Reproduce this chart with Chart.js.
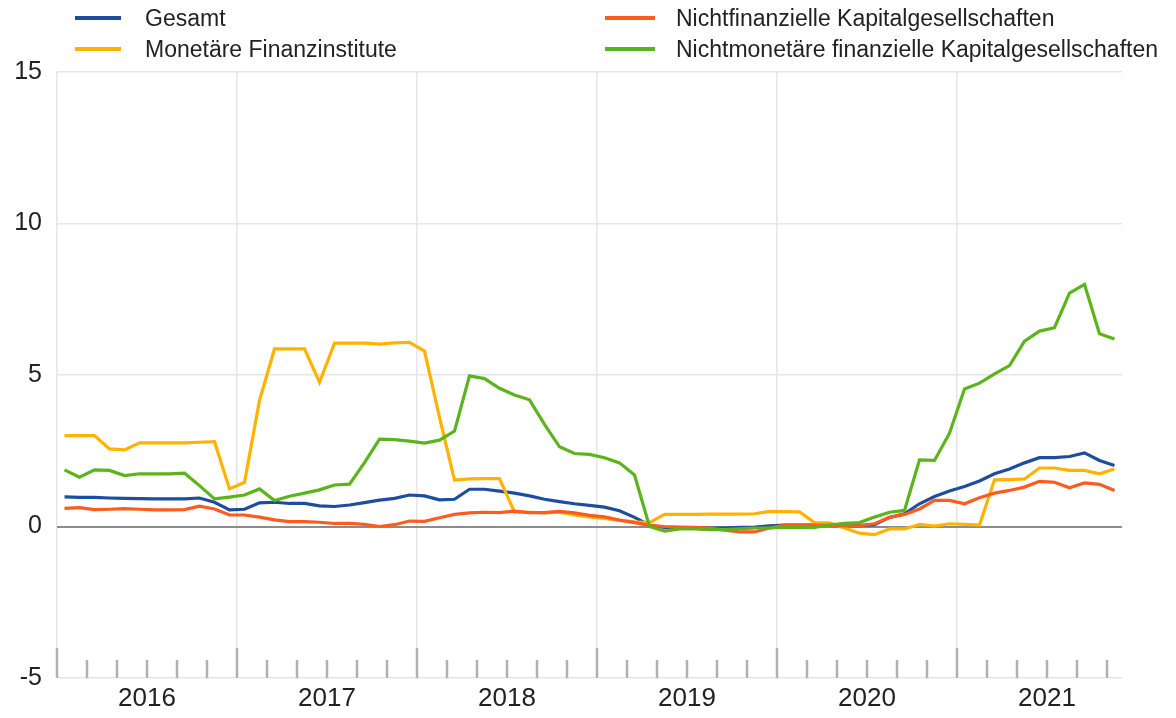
<!DOCTYPE html>
<html><head><meta charset="utf-8">
<script src="https://cdn.jsdelivr.net/npm/chart.js@4"></script>
<style>
html,body{margin:0;padding:0;background:#fff;}
#wrap{position:relative;width:1176px;height:718px;font-family:"Liberation Sans",Arial,sans-serif;color:#222;overflow:hidden;}
canvas{position:absolute;left:0;top:0;}
.lg{position:absolute;font-size:23px;line-height:26px;white-space:nowrap;color:#222;}
.sw{position:absolute;height:4px;width:46px;}
</style></head><body>
<div id="wrap"><canvas id="c" width="1176" height="718"></canvas><div id="legend"></div></div>
<script>
// Years (x-axis labels); data is monthly from Jan 2016 to Nov 2021
const yearLabels = ['2016','2017','2018','2019','2020','2021'];
const seriesNames = ['Gesamt','Monetäre Finanzinstitute','Nichtfinanzielle Kapitalgesellschaften','Nichtmonetäre finanzielle Kapitalgesellschaften'];
const seriesColors = ['#1d4e9e','#ffb300','#ff5a1f','#5cb41c'];
const yTicks = [-5,0,5,10,15];

const gesamt = [0.98,0.96,0.96,0.94,0.93,0.92,0.91,0.91,0.91,0.94,0.8,0.55,0.57,0.78,0.8,0.76,0.76,0.68,0.66,0.71,0.79,0.87,0.93,1.04,1.01,0.88,0.9,1.23,1.23,1.17,1.1,1.01,0.9,0.82,0.75,0.7,0.64,0.52,0.3,0.04,-0.03,-0.04,-0.05,-0.05,-0.05,-0.03,-0.02,0.02,0.05,0.05,0.05,0.04,0.03,0.03,0.06,0.3,0.42,0.75,0.99,1.17,1.32,1.5,1.74,1.9,2.1,2.27,2.27,2.31,2.43,2.18,2.01];
const mfi = [3.0,3.0,3.0,2.56,2.53,2.76,2.76,2.76,2.76,2.78,2.8,1.24,1.46,4.16,5.86,5.86,5.86,4.76,6.05,6.05,6.05,6.02,6.06,6.08,5.79,3.6,1.53,1.57,1.58,1.58,0.47,0.47,0.45,0.47,0.38,0.32,0.27,0.2,0.15,0.13,0.4,0.4,0.4,0.41,0.41,0.41,0.42,0.5,0.49,0.48,0.13,0.12,-0.05,-0.22,-0.27,-0.08,-0.08,0.07,0.01,0.09,0.07,0.05,1.54,1.55,1.57,1.93,1.93,1.85,1.85,1.74,1.9];
const nfc = [0.6,0.62,0.56,0.57,0.59,0.57,0.55,0.55,0.56,0.67,0.58,0.38,0.38,0.31,0.22,0.16,0.16,0.14,0.1,0.1,0.07,0.0,0.06,0.18,0.17,0.29,0.4,0.45,0.47,0.46,0.51,0.46,0.46,0.5,0.45,0.37,0.32,0.21,0.13,0.04,0.0,-0.02,-0.03,-0.05,-0.12,-0.18,-0.18,-0.05,0.05,0.05,0.05,0.04,0.02,0.03,0.09,0.3,0.4,0.58,0.86,0.86,0.75,0.95,1.1,1.19,1.3,1.49,1.46,1.28,1.44,1.39,1.19];
const nmfi = [1.87,1.63,1.87,1.85,1.68,1.74,1.74,1.74,1.76,1.35,0.91,0.97,1.04,1.24,0.86,1.0,1.1,1.21,1.37,1.4,2.11,2.88,2.87,2.82,2.75,2.85,3.15,4.97,4.88,4.56,4.34,4.18,3.37,2.63,2.41,2.38,2.27,2.1,1.7,0.0,-0.15,-0.08,-0.08,-0.1,-0.1,-0.08,-0.05,-0.05,-0.03,-0.03,-0.03,0.05,0.1,0.13,0.31,0.47,0.53,2.2,2.18,3.08,4.54,4.73,5.04,5.31,6.12,6.45,6.56,7.7,7.99,6.36,6.19];

const allSeries = [gesamt, mfi, nfc, nmfi];
const drawOrder = [4,3,2,1];

// legend (HTML)
const legendPos = [[75,145,18],[75,145,49],[605,676,18],[605,676,49]];
const lg = document.getElementById('legend');
seriesNames.forEach((n,i)=>{
  const p = legendPos[i];
  const sw = document.createElement('div');
  sw.className='sw'; sw.style.left=p[0]+'px'; sw.style.top=(p[2]-2)+'px'; sw.style.background=seriesColors[i];
  sw.style.width=(i<2?46:50)+'px';
  lg.appendChild(sw);
  const t = document.createElement('div');
  t.className='lg'; t.style.left=p[1]+'px'; t.style.top=(p[2]-13)+'px'; t.textContent=n;
  lg.appendChild(t);
});

const minorTicks = {
  id:'minorTicks',
  beforeDatasetsDraw(chart){
    const xs = chart.scales.x, ys = chart.scales.y, ctx = chart.ctx;
    const bottom = ys.getPixelForValue(-5);
    ctx.save();
    ctx.strokeStyle = '#b0b0b0';
    ctx.lineWidth = 2.5;
    for(let m=0;m<=70;m+=2){
      const x = Math.round(xs.getPixelForValue(m));
      const h = (m%12===0)?30:18;
      ctx.beginPath(); ctx.moveTo(x,bottom-h); ctx.lineTo(x,bottom); ctx.stroke();
    }
    ctx.restore();
  }
};

new Chart(document.getElementById('c'),{
  type:'line',
  data:{
    datasets: allSeries.map((s,i)=>({
      label: seriesNames[i],
      data: s.map((v,k)=>({x:k+0.5,y:v})),
      borderColor: seriesColors[i],
      backgroundColor: seriesColors[i],
      borderWidth: 3.2,
      pointRadius: 0,
      tension: 0,
      fill:false,
      order: drawOrder[i]
    }))
  },
  options:{
    responsive:false, animation:false, devicePixelRatio:1,
    layout:{padding:{top:72,right:54,left:0,bottom:0}},
    plugins:{legend:{display:false},tooltip:{enabled:false}},
    scales:{
      x:{
        type:'linear', min:0, max:71,
        afterBuildTicks: s => { s.ticks = [0,6,12,18,24,30,36,42,48,54,60,66].map(v=>({value:v})); },
        afterFit: s => { s.height = 40; },
        ticks:{
          autoSkip:false, maxRotation:0, padding:5,
          font:{family:'"Liberation Sans", Arial, sans-serif', size:26},
          color:'#222',
          callback: v => (v%12===6) ? yearLabels[(v-6)/12] : ''
        },
        grid:{
          drawTicks:false,
          color: c => (c.tick && c.tick.value%12===0) ? '#e6e6e6' : 'rgba(0,0,0,0)',
          lineWidth: 1.5
        },
        border:{display:false}
      },
      y:{
        min:-5, max:15,
        afterBuildTicks: s => { s.ticks = yTicks.map(v=>({value:v})); },
        afterFit: s => { s.width = 57; },
        ticks:{
          padding:15,
          font:{family:'"Liberation Sans", Arial, sans-serif', size:25},
          color:'#222'
        },
        grid:{
          drawTicks:false,
          color: c => (c.tick && c.tick.value===0) ? '#8c8c8c' : '#e6e6e6',
          lineWidth: c => (c.tick && c.tick.value===0) ? 2 : 1.5
        },
        border:{display:false}
      }
    }
  },
  plugins:[minorTicks]
});
</script>
</body></html>
